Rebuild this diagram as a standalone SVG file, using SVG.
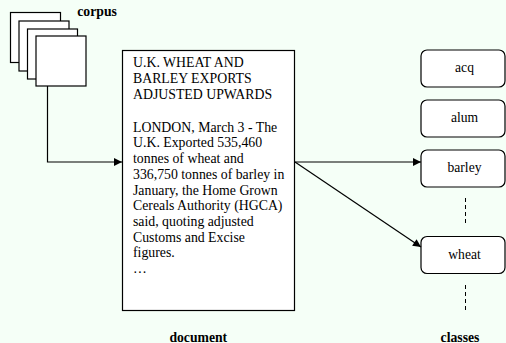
<svg xmlns="http://www.w3.org/2000/svg" width="506" height="343" viewBox="0 0 506 343">
<defs>
<marker id="arr" viewBox="0 0 10 10" refX="10" refY="5" markerWidth="10" markerHeight="8" markerUnits="userSpaceOnUse" orient="auto"><path d="M0,0 L10,5 L0,10 z" fill="#000"/></marker>
</defs>
<style>
.bg{fill:#f5fff7}
.box{fill:#fff;stroke:#000;stroke-width:1.2}
.t{font-family:"Liberation Serif","Times New Roman",serif;font-size:13.8px;fill:#000}
.c{font-family:"Liberation Serif","Times New Roman",serif;font-size:13.6px;fill:#000;text-anchor:middle}
.b{font-family:"Liberation Serif","Times New Roman",serif;font-size:13.7px;font-weight:bold;fill:#000}
.ln{fill:none;stroke:#000;stroke-width:1.2}
.dash{fill:none;stroke:#000;stroke-width:1;stroke-dasharray:4,3}
</style>
<rect class="bg" x="0" y="0" width="506" height="343"/>
<g id="corpus">
<rect class="box" x="10.5" y="12.5" width="50" height="50"/>
<rect class="box" x="19" y="21" width="50" height="50"/>
<rect class="box" x="27.5" y="29" width="50" height="50"/>
<rect class="box" x="36" y="36" width="50" height="50"/>
<text class="b" x="77.3" y="15.7">corpus</text>
</g>
<g id="document">
<rect class="box" x="122.5" y="50.5" width="172" height="260"/>
<text class="t" x="133" y="67">U.K. WHEAT AND</text>
<text class="t" x="133" y="83">BARLEY EXPORTS</text>
<text class="t" x="133" y="99">ADJUSTED UPWARDS</text>
<text class="t" x="133" y="131.5">LONDON, March 3 - The</text>
<text class="t" x="133" y="147">U.K. Exported 535,460</text>
<text class="t" x="133" y="163">tonnes of wheat and</text>
<text class="t" x="133" y="178.5">336,750 tonnes of barley in</text>
<text class="t" x="133" y="194.5">January, the Home Grown</text>
<text class="t" x="133" y="210">Cereals Authority (HGCA)</text>
<text class="t" x="133" y="226">said, quoting adjusted</text>
<text class="t" x="133" y="241.5">Customs and Excise</text>
<text class="t" x="133" y="257">figures.</text>
<text class="t" x="133" y="273">…</text>
<text class="b" x="198.3" y="341.5" text-anchor="middle">document</text>
</g>
<g id="acq">
<rect class="box" x="421" y="50" width="84" height="37" rx="6"/>
<text class="c" x="464.5" y="72">acq</text>
</g>
<g id="alum">
<rect class="box" x="421" y="100" width="84" height="37" rx="6"/>
<text class="c" x="464.5" y="122">alum</text>
</g>
<g id="barley">
<rect class="box" x="421" y="150" width="84" height="37" rx="6"/>
<text class="c" x="464.5" y="172">barley</text>
</g>
<g id="wheat">
<rect class="box" x="421" y="236.5" width="84" height="37" rx="6"/>
<text class="c" x="464.5" y="258.5">wheat</text>
</g>
<g id="classes">
<text class="b" x="460" y="341.5" text-anchor="middle">classes</text>
</g>
<g id="connectors">
<polyline class="ln" points="47.5,86 47.5,162 122,162" marker-end="url(#arr)"/>
<line class="ln" x1="295" y1="162" x2="421" y2="162" marker-end="url(#arr)"/>
<line class="ln" x1="295" y1="162" x2="421" y2="247" marker-end="url(#arr)"/>
<line class="dash" x1="465.5" y1="198" x2="465.5" y2="226"/>
<line class="dash" x1="465.5" y1="285" x2="465.5" y2="312"/>
</g>
</svg>
